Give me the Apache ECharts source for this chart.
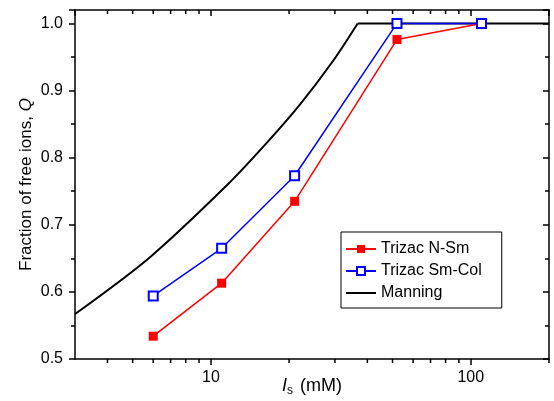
<!DOCTYPE html>
<html>
<head>
<meta charset="utf-8">
<script src="https://cdn.jsdelivr.net/npm/echarts@6/dist/echarts.min.js"></script>
<style>
  html, body { margin: 0; padding: 0; background: #fff; }
  #chart { width: 554px; height: 401px; }
</style>
</head>
<body>
<div id="chart"></div>
<script>
// ionic strength (mM) and fraction of free ions
const nSmX = [6, 11, 21, 52, 110];
const nSmQ = [0.534, 0.613, 0.735, 0.976, 1.0];
const smColX = [6, 11, 21, 52, 110];
const smColQ = [0.594, 0.665, 0.773, 1.0, 1.0];
// Manning: rising part up to the knee, then flat at 1
const manningX = [3, 5.8, 11.6, 16.4, 22, 29.5, 36.7];
const manningQ = [0.567, 0.651, 0.760, 0.822, 0.879, 0.944, 1.0];
const manningFlatX = [36.7, 200];
const manningFlatQ = [1.0, 1.0];
const xMinorTicks = [4, 5, 6, 7, 8, 9, 20, 30, 40, 50, 60, 70, 80, 90, 200];

const FONT = '"Liberation Sans", Arial, sans-serif';
const X_MIN = 3, X_MAX = 200, Y_MIN = 0.5, Y_MAX = 1.02;

const chart = echarts.init(document.getElementById('chart'));

function pairs(xs, ys) {
  return xs.map((x, i) => [x, ys[i]]);
}

chart.setOption({
  animation: false,
  textStyle: { fontFamily: FONT, color: '#000' },
  grid: { left: 75, right: 5, top: 10, bottom: 42, outerBoundsMode: 'none', containLabel: false },
  legend: {
    orient: 'vertical',
    left: 341,
    top: 232,
    padding: [9, 20, 7, 4],
    itemGap: 6,
    itemWidth: 30,
    itemHeight: 10,
    borderColor: '#000',
    borderWidth: 1,
    backgroundColor: '#fff',
    textStyle: { fontSize: 16, fontFamily: FONT, color: '#000', lineHeight: 16 },
    data: ['Trizac N-Sm', 'Trizac Sm-Col', { name: 'Manning', itemStyle: { opacity: 0 } }],
  },
  xAxis: [
    {
      type: 'log',
      logBase: 10,
      min: X_MIN,
      max: X_MAX,
      position: 'bottom',
      name: '{i|I}{s|s} (mM)',
      nameLocation: 'middle',
      nameGap: 16,
      nameMoveOverlap: false,
      nameTextStyle: {
        fontSize: 18,
        fontFamily: FONT,
        color: '#000',
        rich: {
          i: { fontSize: 18, fontStyle: 'italic', fontFamily: FONT },
          s: { fontSize: 12, fontFamily: FONT, padding: [10, 2, 0, 0] },
        },
      },
      axisLine: { lineStyle: { color: '#000', width: 1.5 } },
      axisTick: { inside: false, length: 6, lineStyle: { color: '#000', width: 1.5 } },
      axisLabel: { fontSize: 16, color: '#000', margin: 11, showMinLabel: false, showMaxLabel: false },
      splitLine: { show: false },
    },
    {
      type: 'log',
      logBase: 10,
      min: X_MIN,
      max: X_MAX,
      position: 'top',
      axisLine: { lineStyle: { color: '#000', width: 1.5 } },
      axisTick: { inside: true, length: 6, lineStyle: { color: '#000', width: 1.5 } },
      axisLabel: { show: false },
      splitLine: { show: false },
    },
  ],
  yAxis: [
    {
      type: 'value',
      min: Y_MIN,
      max: Y_MAX,
      interval: 0.1,
      position: 'left',
      name: 'Fraction of free ions, {q|Q}',
      nameLocation: 'middle',
      nameGap: 40,
      nameMoveOverlap: false,
      nameTextStyle: {
        fontSize: 17,
        fontFamily: FONT,
        color: '#000',
        rich: { q: { fontSize: 17, fontStyle: 'italic', fontFamily: FONT } },
      },
      axisLine: { show: true, lineStyle: { color: '#000', width: 1.5 } },
      axisTick: { show: true, inside: false, length: 6, lineStyle: { color: '#000', width: 1.5 } },
      minorTick: { show: true, splitNumber: 2, length: 4, lineStyle: { color: '#000', width: 1.5 } },
      axisLabel: {
        fontSize: 16, color: '#000', margin: 12, showMaxLabel: false,
        formatter: (v) => v.toFixed(1),
      },
      splitLine: { show: false },
    },
    {
      type: 'value',
      min: Y_MIN,
      max: Y_MAX,
      interval: 0.1,
      position: 'right',
      axisLine: { show: true, lineStyle: { color: '#000', width: 1.5 } },
      axisTick: { show: true, inside: true, length: 6, lineStyle: { color: '#000', width: 1.5 } },
      minorTick: { show: true, splitNumber: 2, length: 4, lineStyle: { color: '#000', width: 1.5 } },
      axisLabel: { show: false },
      splitLine: { show: false },
    },
  ],
  series: [
    {
      // minor ticks of the log axes (bottom outward, top inward)
      type: 'custom',
      silent: true,
      clip: false,
      xAxisIndex: 0,
      yAxisIndex: 0,
      data: xMinorTicks.map((v) => [v, Y_MIN]),
      renderItem: (params, api) => {
        const v = api.value(0);
        const b = api.coord([v, Y_MIN]);
        const t = api.coord([v, Y_MAX]);
        const style = { stroke: '#000', lineWidth: 1.5 };
        return {
          type: 'group',
          children: [
            { type: 'line', shape: { x1: b[0], y1: b[1], x2: b[0], y2: b[1] + 4 }, style },
            { type: 'line', shape: { x1: t[0], y1: t[1], x2: t[0], y2: t[1] + 4 }, style },
          ],
        };
      },
    },
    {
      name: 'Manning',
      type: 'line',
      data: pairs(manningX, manningQ),
      smooth: 0.3,
      symbol: 'none',
      lineStyle: { color: '#000', width: 2 },
      itemStyle: { color: '#000' },
    },
    {
      name: 'Manning',
      type: 'line',
      data: pairs(manningFlatX, manningFlatQ),
      symbol: 'none',
      lineStyle: { color: '#000', width: 2 },
      itemStyle: { color: '#000' },
    },
    {
      name: 'Trizac N-Sm',
      type: 'line',
      data: pairs(nSmX, nSmQ),
      symbol: 'rect',
      symbolSize: 9,
      lineStyle: { color: '#ff0000', width: 1.5 },
      itemStyle: { color: '#ff0000' },
    },
    {
      name: 'Trizac Sm-Col',
      type: 'line',
      data: pairs(smColX, smColQ),
      symbol: 'emptyRect',
      symbolSize: 9,
      lineStyle: { color: '#0000ff', width: 1.5 },
      itemStyle: { color: '#0000ff', borderColor: '#0000ff', borderWidth: 1.2 },
    },
  ],
});
</script>
</body>
</html>
